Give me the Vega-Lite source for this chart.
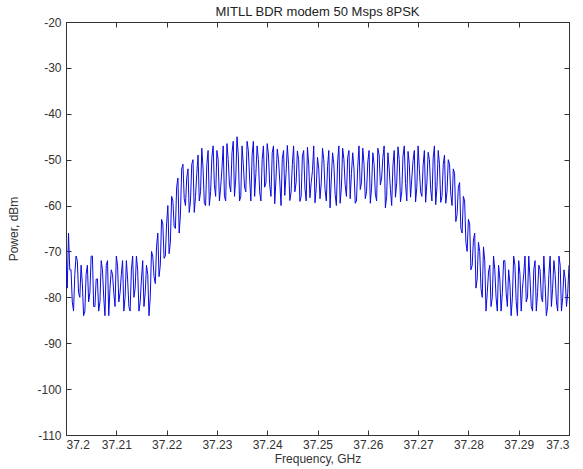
{
  "$schema": "https://vega.github.io/schema/vega-lite/v6.json",
  "autosize": {"type": "none"},
  "padding": {"left": 66, "top": 22, "right": 14, "bottom": 34},
  "width": 503,
  "height": 413,
  "background": "white",
  "title": {"text": "MITLL BDR modem 50 Msps 8PSK", "font": "Liberation Sans", "fontSize": 13, "fontWeight": "normal", "color": "#222", "offset": 4, "dy": 7},
  "config": {
    "view": {"stroke": "#333", "strokeWidth": 1},
    "axis": {"labelFont": "Liberation Sans", "labelFontSize": 12, "labelColor": "#333", "titleFont": "Liberation Sans", "titleFontSize": 12, "titleFontWeight": "normal", "titleColor": "#333", "grid": false, "domainColor": "#333", "tickColor": "#333", "tickSize": -5, "labelPadding": 10}
  },
  "data": {"values": [
    {"f": 37.2, "p": -72}, {"f": 37.20025, "p": -78}, {"f": 37.2005, "p": -66}, {"f": 37.20075, "p": -74},
    {"f": 37.201, "p": -74}, {"f": 37.20125, "p": -81}, {"f": 37.2015, "p": -83}, {"f": 37.20175, "p": -75},
    {"f": 37.202, "p": -71}, {"f": 37.20225, "p": -72}, {"f": 37.2025, "p": -79}, {"f": 37.20275, "p": -80},
    {"f": 37.203, "p": -73}, {"f": 37.20325, "p": -77}, {"f": 37.2035, "p": -84}, {"f": 37.20375, "p": -83},
    {"f": 37.204, "p": -75}, {"f": 37.20425, "p": -73}, {"f": 37.2045, "p": -81}, {"f": 37.20475, "p": -79},
    {"f": 37.205, "p": -71}, {"f": 37.20525, "p": -71}, {"f": 37.2055, "p": -82}, {"f": 37.20575, "p": -82},
    {"f": 37.206, "p": -76}, {"f": 37.20625, "p": -76}, {"f": 37.2065, "p": -83}, {"f": 37.20675, "p": -81},
    {"f": 37.207, "p": -72}, {"f": 37.20725, "p": -74}, {"f": 37.2075, "p": -80}, {"f": 37.20775, "p": -84},
    {"f": 37.208, "p": -73}, {"f": 37.20825, "p": -72}, {"f": 37.2085, "p": -84}, {"f": 37.20875, "p": -78},
    {"f": 37.209, "p": -74}, {"f": 37.20925, "p": -75}, {"f": 37.2095, "p": -79}, {"f": 37.20975, "p": -82},
    {"f": 37.21, "p": -71}, {"f": 37.21025, "p": -73}, {"f": 37.2105, "p": -81}, {"f": 37.21075, "p": -79},
    {"f": 37.211, "p": -75}, {"f": 37.21125, "p": -72}, {"f": 37.2115, "p": -83}, {"f": 37.21175, "p": -80},
    {"f": 37.212, "p": -72}, {"f": 37.21225, "p": -76}, {"f": 37.2125, "p": -82}, {"f": 37.21275, "p": -83},
    {"f": 37.213, "p": -74}, {"f": 37.21325, "p": -71}, {"f": 37.2135, "p": -80}, {"f": 37.21375, "p": -78},
    {"f": 37.214, "p": -71}, {"f": 37.21425, "p": -74}, {"f": 37.2145, "p": -83}, {"f": 37.21475, "p": -81},
    {"f": 37.215, "p": -76}, {"f": 37.21525, "p": -72}, {"f": 37.2155, "p": -82}, {"f": 37.21575, "p": -79},
    {"f": 37.216, "p": -73}, {"f": 37.21625, "p": -75}, {"f": 37.2165, "p": -84}, {"f": 37.21675, "p": -80},
    {"f": 37.217, "p": -70}, {"f": 37.21725, "p": -71}, {"f": 37.2175, "p": -75.5}, {"f": 37.21775, "p": -77},
    {"f": 37.218, "p": -69}, {"f": 37.21825, "p": -66}, {"f": 37.2185, "p": -75.5}, {"f": 37.21875, "p": -73},
    {"f": 37.219, "p": -63}, {"f": 37.21925, "p": -64}, {"f": 37.2195, "p": -71.5}, {"f": 37.21975, "p": -71},
    {"f": 37.22, "p": -64}, {"f": 37.22025, "p": -60}, {"f": 37.2205, "p": -70.5}, {"f": 37.22075, "p": -68},
    {"f": 37.221, "p": -58}, {"f": 37.22125, "p": -59}, {"f": 37.2215, "p": -64.5}, {"f": 37.22175, "p": -65},
    {"f": 37.222, "p": -56}, {"f": 37.22225, "p": -54}, {"f": 37.2225, "p": -66}, {"f": 37.22275, "p": -62},
    {"f": 37.223, "p": -52}, {"f": 37.22325, "p": -51}, {"f": 37.2235, "p": -58.5}, {"f": 37.22375, "p": -60},
    {"f": 37.224, "p": -54}, {"f": 37.22425, "p": -52}, {"f": 37.2245, "p": -61.5}, {"f": 37.22475, "p": -59},
    {"f": 37.225, "p": -51}, {"f": 37.22525, "p": -50}, {"f": 37.2255, "p": -61.5}, {"f": 37.22575, "p": -58},
    {"f": 37.226, "p": -53}, {"f": 37.22625, "p": -49}, {"f": 37.2265, "p": -59}, {"f": 37.22675, "p": -57},
    {"f": 37.227, "p": -47.5}, {"f": 37.22725, "p": -52}, {"f": 37.2275, "p": -59.5}, {"f": 37.22775, "p": -60},
    {"f": 37.228, "p": -51}, {"f": 37.22825, "p": -48}, {"f": 37.2285, "p": -60}, {"f": 37.22875, "p": -57},
    {"f": 37.229, "p": -49.5}, {"f": 37.22925, "p": -47}, {"f": 37.2295, "p": -55.5}, {"f": 37.22975, "p": -58},
    {"f": 37.23, "p": -48}, {"f": 37.23025, "p": -50}, {"f": 37.2305, "p": -59}, {"f": 37.23075, "p": -56},
    {"f": 37.231, "p": -52}, {"f": 37.23125, "p": -47}, {"f": 37.2315, "p": -58}, {"f": 37.23175, "p": -59},
    {"f": 37.232, "p": -46.5}, {"f": 37.23225, "p": -50}, {"f": 37.2325, "p": -55.5}, {"f": 37.23275, "p": -57},
    {"f": 37.233, "p": -48.5}, {"f": 37.23325, "p": -46}, {"f": 37.2335, "p": -58}, {"f": 37.23375, "p": -54},
    {"f": 37.234, "p": -45}, {"f": 37.23425, "p": -49}, {"f": 37.2345, "p": -59}, {"f": 37.23475, "p": -58},
    {"f": 37.235, "p": -47}, {"f": 37.23525, "p": -51}, {"f": 37.2355, "p": -56}, {"f": 37.23575, "p": -57},
    {"f": 37.236, "p": -46}, {"f": 37.23625, "p": -48}, {"f": 37.2365, "p": -54}, {"f": 37.23675, "p": -59},
    {"f": 37.237, "p": -49}, {"f": 37.23725, "p": -46}, {"f": 37.2375, "p": -58}, {"f": 37.23775, "p": -53},
    {"f": 37.238, "p": -47}, {"f": 37.23825, "p": -50}, {"f": 37.2385, "p": -57}, {"f": 37.23875, "p": -59},
    {"f": 37.239, "p": -50}, {"f": 37.23925, "p": -47}, {"f": 37.2395, "p": -56}, {"f": 37.23975, "p": -55},
    {"f": 37.24, "p": -46.5}, {"f": 37.24025, "p": -49}, {"f": 37.2405, "p": -55.5}, {"f": 37.24075, "p": -58},
    {"f": 37.241, "p": -48.5}, {"f": 37.24125, "p": -47}, {"f": 37.2415, "p": -59.6}, {"f": 37.24175, "p": -54},
    {"f": 37.242, "p": -47.7}, {"f": 37.24225, "p": -50}, {"f": 37.2425, "p": -54.7}, {"f": 37.24275, "p": -60},
    {"f": 37.243, "p": -49.8}, {"f": 37.24325, "p": -48}, {"f": 37.2435, "p": -57.8}, {"f": 37.24375, "p": -53},
    {"f": 37.244, "p": -46.9}, {"f": 37.24425, "p": -51}, {"f": 37.2445, "p": -58.9}, {"f": 37.24475, "p": -57},
    {"f": 37.245, "p": -51}, {"f": 37.24525, "p": -47}, {"f": 37.2455, "p": -57}, {"f": 37.24575, "p": -55},
    {"f": 37.246, "p": -48.1}, {"f": 37.24625, "p": -50}, {"f": 37.2465, "p": -59.1}, {"f": 37.24675, "p": -58},
    {"f": 37.247, "p": -49.2}, {"f": 37.24725, "p": -48}, {"f": 37.2475, "p": -56.2}, {"f": 37.24775, "p": -59},
    {"f": 37.248, "p": -47.3}, {"f": 37.24825, "p": -51}, {"f": 37.2485, "p": -58.3}, {"f": 37.24875, "p": -55},
    {"f": 37.249, "p": -52.4}, {"f": 37.24925, "p": -47}, {"f": 37.2495, "p": -59.4}, {"f": 37.24975, "p": -56},
    {"f": 37.25, "p": -49.5}, {"f": 37.25025, "p": -52}, {"f": 37.2505, "p": -58.5}, {"f": 37.25075, "p": -55},
    {"f": 37.251, "p": -47.5}, {"f": 37.25125, "p": -50}, {"f": 37.2515, "p": -56.5}, {"f": 37.25175, "p": -59},
    {"f": 37.252, "p": -51.5}, {"f": 37.25225, "p": -48}, {"f": 37.2525, "p": -60.5}, {"f": 37.25275, "p": -54},
    {"f": 37.253, "p": -48.5}, {"f": 37.25325, "p": -51}, {"f": 37.2535, "p": -57.5}, {"f": 37.25375, "p": -60},
    {"f": 37.254, "p": -50.5}, {"f": 37.25425, "p": -47}, {"f": 37.2545, "p": -59.5}, {"f": 37.25475, "p": -56},
    {"f": 37.255, "p": -47.5}, {"f": 37.25525, "p": -50}, {"f": 37.2555, "p": -55.5}, {"f": 37.25575, "p": -58},
    {"f": 37.256, "p": -49.5}, {"f": 37.25625, "p": -48}, {"f": 37.2565, "p": -58.5}, {"f": 37.25675, "p": -53},
    {"f": 37.257, "p": -48.5}, {"f": 37.25725, "p": -52}, {"f": 37.2575, "p": -59.5}, {"f": 37.25775, "p": -59},
    {"f": 37.258, "p": -51.5}, {"f": 37.25825, "p": -47}, {"f": 37.2585, "p": -56.5}, {"f": 37.25875, "p": -55},
    {"f": 37.259, "p": -47.5}, {"f": 37.25925, "p": -51}, {"f": 37.2595, "p": -58.5}, {"f": 37.25975, "p": -57},
    {"f": 37.26, "p": -50.5}, {"f": 37.26025, "p": -48}, {"f": 37.2605, "p": -59.5}, {"f": 37.26075, "p": -56},
    {"f": 37.261, "p": -48.5}, {"f": 37.26125, "p": -51}, {"f": 37.2615, "p": -57.5}, {"f": 37.26175, "p": -59},
    {"f": 37.262, "p": -47.5}, {"f": 37.26225, "p": -49}, {"f": 37.2625, "p": -55.5}, {"f": 37.26275, "p": -54},
    {"f": 37.263, "p": -49.5}, {"f": 37.26325, "p": -47}, {"f": 37.2635, "p": -60.5}, {"f": 37.26375, "p": -58},
    {"f": 37.264, "p": -48.5}, {"f": 37.26425, "p": -52}, {"f": 37.2645, "p": -56.5}, {"f": 37.26475, "p": -60},
    {"f": 37.265, "p": -51.2}, {"f": 37.26525, "p": -48}, {"f": 37.2655, "p": -58.2}, {"f": 37.26575, "p": -55},
    {"f": 37.266, "p": -47.2}, {"f": 37.26625, "p": -50}, {"f": 37.2665, "p": -59.2}, {"f": 37.26675, "p": -57},
    {"f": 37.267, "p": -49.2}, {"f": 37.26725, "p": -47}, {"f": 37.2675, "p": -55.2}, {"f": 37.26775, "p": -59},
    {"f": 37.268, "p": -48.2}, {"f": 37.26825, "p": -51}, {"f": 37.2685, "p": -58.2}, {"f": 37.26875, "p": -54},
    {"f": 37.269, "p": -50.2}, {"f": 37.26925, "p": -48}, {"f": 37.2695, "p": -59.2}, {"f": 37.26975, "p": -56},
    {"f": 37.27, "p": -47}, {"f": 37.27025, "p": -52}, {"f": 37.2705, "p": -57}, {"f": 37.27075, "p": -58},
    {"f": 37.271, "p": -51.2}, {"f": 37.27125, "p": -48}, {"f": 37.2715, "p": -59.3}, {"f": 37.27175, "p": -55},
    {"f": 37.272, "p": -48.4}, {"f": 37.27225, "p": -50}, {"f": 37.2725, "p": -56.5}, {"f": 37.27275, "p": -59},
    {"f": 37.273, "p": -49.6}, {"f": 37.27325, "p": -47}, {"f": 37.2735, "p": -59.8}, {"f": 37.27375, "p": -56},
    {"f": 37.274, "p": -48}, {"f": 37.27425, "p": -51}, {"f": 37.2745, "p": -59.3}, {"f": 37.27475, "p": -58},
    {"f": 37.275, "p": -51}, {"f": 37.27525, "p": -49}, {"f": 37.2755, "p": -59.5}, {"f": 37.27575, "p": -57},
    {"f": 37.276, "p": -50}, {"f": 37.27625, "p": -51}, {"f": 37.2765, "p": -57.5}, {"f": 37.27675, "p": -60},
    {"f": 37.277, "p": -52}, {"f": 37.27725, "p": -53}, {"f": 37.2775, "p": -63.5}, {"f": 37.27775, "p": -62},
    {"f": 37.278, "p": -56}, {"f": 37.27825, "p": -55}, {"f": 37.2785, "p": -65}, {"f": 37.27875, "p": -66},
    {"f": 37.279, "p": -58}, {"f": 37.27925, "p": -59}, {"f": 37.2795, "p": -68}, {"f": 37.27975, "p": -70},
    {"f": 37.28, "p": -63}, {"f": 37.28025, "p": -64}, {"f": 37.2805, "p": -74}, {"f": 37.28075, "p": -73},
    {"f": 37.281, "p": -67.5}, {"f": 37.28125, "p": -66}, {"f": 37.2815, "p": -78}, {"f": 37.28175, "p": -76},
    {"f": 37.282, "p": -68}, {"f": 37.28225, "p": -70}, {"f": 37.2825, "p": -78}, {"f": 37.28275, "p": -80},
    {"f": 37.283, "p": -69}, {"f": 37.28325, "p": -72}, {"f": 37.2835, "p": -83}, {"f": 37.28375, "p": -79},
    {"f": 37.284, "p": -74.5}, {"f": 37.28425, "p": -73}, {"f": 37.2845, "p": -82}, {"f": 37.28475, "p": -80},
    {"f": 37.285, "p": -71}, {"f": 37.28525, "p": -74}, {"f": 37.2855, "p": -80}, {"f": 37.28575, "p": -83},
    {"f": 37.286, "p": -73}, {"f": 37.28625, "p": -76}, {"f": 37.2865, "p": -83}, {"f": 37.28675, "p": -79},
    {"f": 37.287, "p": -72}, {"f": 37.28725, "p": -72}, {"f": 37.2875, "p": -79}, {"f": 37.28775, "p": -82},
    {"f": 37.288, "p": -74}, {"f": 37.28825, "p": -77}, {"f": 37.2885, "p": -84}, {"f": 37.28875, "p": -80},
    {"f": 37.289, "p": -71}, {"f": 37.28925, "p": -73}, {"f": 37.2895, "p": -81}, {"f": 37.28975, "p": -84},
    {"f": 37.29, "p": -72}, {"f": 37.29025, "p": -75}, {"f": 37.2905, "p": -83}, {"f": 37.29075, "p": -78},
    {"f": 37.291, "p": -75}, {"f": 37.29125, "p": -71}, {"f": 37.2915, "p": -81}, {"f": 37.29175, "p": -80},
    {"f": 37.292, "p": -71}, {"f": 37.29225, "p": -76}, {"f": 37.2925, "p": -82}, {"f": 37.29275, "p": -83},
    {"f": 37.293, "p": -74}, {"f": 37.29325, "p": -72}, {"f": 37.2935, "p": -83}, {"f": 37.29375, "p": -79},
    {"f": 37.294, "p": -73}, {"f": 37.29425, "p": -74}, {"f": 37.2945, "p": -80}, {"f": 37.29475, "p": -81},
    {"f": 37.295, "p": -71}, {"f": 37.29525, "p": -77}, {"f": 37.2955, "p": -84}, {"f": 37.29575, "p": -82},
    {"f": 37.296, "p": -75}, {"f": 37.29625, "p": -71}, {"f": 37.2965, "p": -82}, {"f": 37.29675, "p": -78},
    {"f": 37.297, "p": -72}, {"f": 37.29725, "p": -75}, {"f": 37.2975, "p": -81}, {"f": 37.29775, "p": -83},
    {"f": 37.298, "p": -71}, {"f": 37.29825, "p": -73}, {"f": 37.2985, "p": -83}, {"f": 37.29875, "p": -80},
    {"f": 37.299, "p": -74}, {"f": 37.29925, "p": -76}, {"f": 37.2995, "p": -82}, {"f": 37.29975, "p": -79},
    {"f": 37.3, "p": -73}
  ]},
  "layer": [
    {
      "mark": {"type": "line", "color": "#0a0ae0", "strokeWidth": 1, "clip": true},
      "encoding": {
        "x": {"field": "f", "type": "quantitative", "scale": {"domain": [37.2, 37.3], "nice": false, "zero": false},
              "axis": {"title": "Frequency, GHz", "values": [37.2, 37.21, 37.22, 37.23, 37.24, 37.25, 37.26, 37.27, 37.28, 37.29, 37.3], "format": "~g", "labelPadding": 9, "titlePadding": 3}},
        "y": {"field": "p", "type": "quantitative", "scale": {"domain": [-110, -20], "nice": false, "zero": false},
              "axis": {"title": "Power, dBm", "values": [-110, -100, -90, -80, -70, -60, -50, -40, -30, -20], "labelExpr": "'' + datum.value", "titlePadding": 16}}
      }
    },
    {
      "mark": {"type": "line", "opacity": 0},
      "encoding": {
        "x": {"field": "f", "type": "quantitative", "axis": {"orient": "top", "title": null, "labels": false, "labelPadding": 0, "values": [37.2, 37.21, 37.22, 37.23, 37.24, 37.25, 37.26, 37.27, 37.28, 37.29, 37.3]}},
        "y": {"field": "p", "type": "quantitative", "axis": {"orient": "right", "title": null, "labels": false, "labelPadding": 0, "values": [-110, -100, -90, -80, -70, -60, -50, -40, -30, -20]}}
      }
    }
  ],
  "resolve": {"axis": {"x": "independent", "y": "independent"}}
}
